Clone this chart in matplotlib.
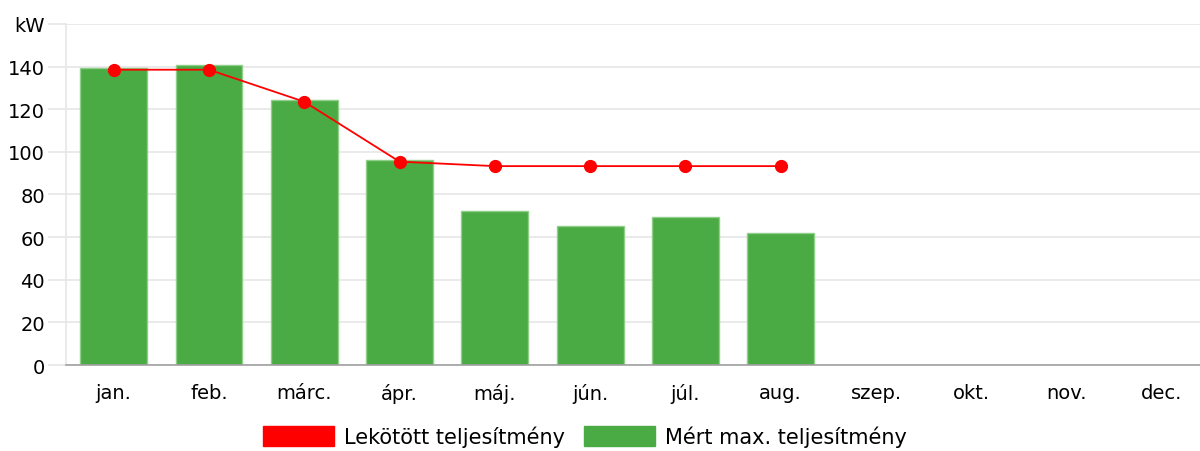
import numpy as np
import matplotlib.pyplot as plt
from matplotlib.patches import Patch

months = ["jan.", "feb.", "márc.", "ápr.", "máj.", "jún.", "júl.", "aug.",
          "szep.", "okt.", "nov.", "dec."]
# mért max. teljesítmény (kW), csak jan-aug
measured = [139.5, 140.5, 124.5, 96.3, 72.3, 65.3, 69.5, 62.0]
# lekötött teljesítmény (kW)
contracted = [138.5, 138.5, 123.5, 95.4, 93.3, 93.3, 93.3, 93.3]
yticks = [0, 20, 40, 60, 80, 100, 120, 140, 160]
ylabels = ["0", "20", "40", "60", "80", "100", "120", "140", "kW"]

green = "#4aaa44"
red = "#ff0000"

fig = plt.figure(figsize=(12, 4.52), dpi=100)
# the plot area runs a bit past the right edge in the original
ax = fig.add_axes([0.055, 0.19, 0.953, 0.755])

x = np.arange(len(months))
xm = x[:len(measured)]
ax.bar(xm, measured, width=0.70, color=green, edgecolor="#8fcf8a", linewidth=1, zorder=2)
ax.plot(xm, contracted, color=red, lw=1.3, marker="o", markersize=8.5, zorder=3)

ax.set_xlim(-0.5, len(months) - 0.5)
ax.set_ylim(0, 160)
ax.set_xticks(x)
ax.set_xticklabels(months, fontsize=14)
ax.set_yticks(yticks)
ax.set_yticklabels(ylabels, fontsize=14)
ax.tick_params(axis="x", length=0, pad=13)
ax.tick_params(axis="y", length=13, width=1.2, color="#e6e6e6", pad=2)
ax.yaxis.grid(True, color="#e6e6e6", lw=1.2, zorder=0)
ax.set_axisbelow(True)
for s in ["top", "right"]:
    ax.spines[s].set_visible(False)
ax.spines["left"].set_color("#e6e6e6")
ax.spines["left"].set_linewidth(1.2)
ax.spines["bottom"].set_color("#a0a0a0")
ax.spines["bottom"].set_linewidth(1.2)

handles = [Patch(color=red, label="Lekötött teljesítmény"),
           Patch(color=green, label="Mért max. teljesítmény")]
fig.legend(handles=handles, loc="lower center", bbox_to_anchor=(0.4875, -0.033),
           ncol=2, frameon=False, fontsize=15, handlelength=3.4, handleheight=1.1,
           handletextpad=0.5, columnspacing=0.9)

fig.savefig("out.png", dpi=100)
